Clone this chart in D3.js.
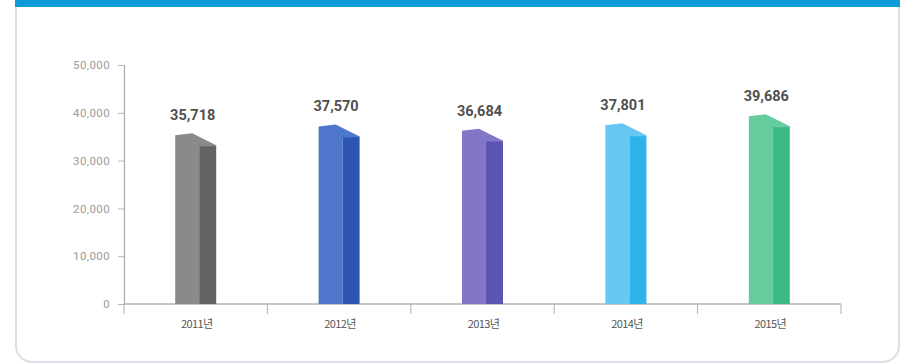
<!DOCTYPE html>
<html>
<head>
<meta charset="utf-8">
<script src="https://cdn.jsdelivr.net/npm/d3@7/dist/d3.min.js"></script>
<style>
  html, body { margin: 0; padding: 0; background: #ffffff; }
  svg { display: block; }
</style>
</head>
<body>
<svg id="chart" width="914" height="363"></svg>
<script>
// Yearly totals
const categories = ["2011년", "2012년", "2013년", "2014년", "2015년"];
const values = [35718, 37570, 36684, 37801, 39686];
const yTicks = [0, 10000, 20000, 30000, 40000, 50000];
const frontColors = ["#8a8a8a", "#4e76cb", "#8176c8", "#66c7f2", "#66cc9d"];
const sideColors = ["#606467", "#2c56b4", "#5c54b2", "#2eb2ea", "#3aba82"];

const svg = d3.select("#chart");
const W = 914, H = 363;

// Card frame with a blue header strip
const card = { x: 16, y: -14, w: 883, h: 376, r: 16 };
svg.append("rect")
  .attr("x", card.x).attr("y", card.y)
  .attr("width", card.w).attr("height", card.h)
  .attr("rx", card.r)
  .attr("fill", "#ffffff")
  .attr("stroke", "#dedeeb")
  .attr("stroke-width", 2);
svg.append("rect")
  .attr("x", card.x - 1).attr("y", 0)
  .attr("width", card.w + 2).attr("height", 7)
  .attr("fill", "#0b9bd7");

// Scales
const x = d3.scaleBand().domain(categories).range([124, 841]).padding(0);
const y = d3.scaleLinear().domain([0, 50000]).range([304, 65]);

// Y axis
const yAxis = svg.append("g")
  .attr("transform", "translate(124,0)")
  .call(d3.axisLeft(y).tickValues(yTicks).tickFormat(d3.format(",")).tickSize(6).tickSizeOuter(6).tickPadding(8));
yAxis.select(".domain").attr("stroke", "#a9a9a9").attr("stroke-width", 1.2);
yAxis.selectAll(".tick line").attr("stroke", "#b5b5b5");
yAxis.selectAll(".tick text")
  .attr("fill", "#9a9a9a")
  .style("font-family", "Roboto, 'Noto Sans', sans-serif")
  .style("font-size", "11.5px")
  .style("letter-spacing", "0.4px");

// X axis: baseline with ticks on the category boundaries
const xAxis = svg.append("g").attr("transform", "translate(0,304)");
xAxis.append("line")
  .attr("x1", x.range()[0]).attr("x2", x.range()[1])
  .attr("y1", 0).attr("y2", 0)
  .attr("stroke", "#8e8e8e").attr("stroke-width", 1.2);
const bounds = categories.map(c => x(c)).concat([x.range()[1]]);
xAxis.selectAll("line.bound").data(bounds).enter().append("line")
  .attr("class", "bound")
  .attr("x1", d => d).attr("x2", d => d)
  .attr("y1", 0).attr("y2", 10)
  .attr("stroke", "#b0b0b0").attr("stroke-width", 1);
xAxis.selectAll("text.cat").data(categories).enter().append("text")
  .attr("class", "cat")
  .attr("x", d => x(d) + x.bandwidth() / 2 + 1)
  .attr("y", 24)
  .attr("text-anchor", "middle")
  .attr("fill", "#555555")
  .style("font-family", "'Noto Sans CJK KR', 'Noto Sans', sans-serif")
  .style("font-size", "11px")
  .style("letter-spacing", "-0.6px")
  .text(d => d);

// 3D-style bars: a front face with a bevelled top and a darker side face
const frontW = 24, sideW = 17, totalW = frontW + sideW;
const bars = svg.append("g").selectAll("g.bar")
  .data(categories.map((c, i) => ({ c, v: values[i], i })))
  .enter().append("g").attr("class", "bar");

bars.append("path")
  .attr("fill", d => frontColors[d.i])
  .attr("d", d => {
    const x0 = x(d.c) + x.bandwidth() / 2 - totalW / 2;
    const t = y(d.v), b = y(0);
    return `M${x0},${b} L${x0},${t + 2} L${x0 + 17},${t} L${x0 + totalW},${t + 12} ` +
           `L${x0 + totalW},${t + 14} L${x0 + frontW},${t + 14} L${x0 + frontW},${b} Z`;
  });

bars.append("rect")
  .attr("fill", d => sideColors[d.i])
  .attr("x", d => x(d.c) + x.bandwidth() / 2 - totalW / 2 + frontW)
  .attr("y", d => y(d.v) + 13)
  .attr("width", sideW)
  .attr("height", d => y(0) - y(d.v) - 13);

// Value labels
bars.append("text")
  .attr("x", d => x(d.c) + x.bandwidth() / 2 - 3)
  .attr("y", d => y(d.v) - 13)
  .attr("text-anchor", "middle")
  .attr("fill", "#505050")
  .style("font-family", "Roboto, 'Noto Sans', sans-serif")
  .style("font-weight", "700")
  .style("font-size", "14.5px")
  .text(d => d3.format(",")(d.v));
</script>
</body>
</html>
